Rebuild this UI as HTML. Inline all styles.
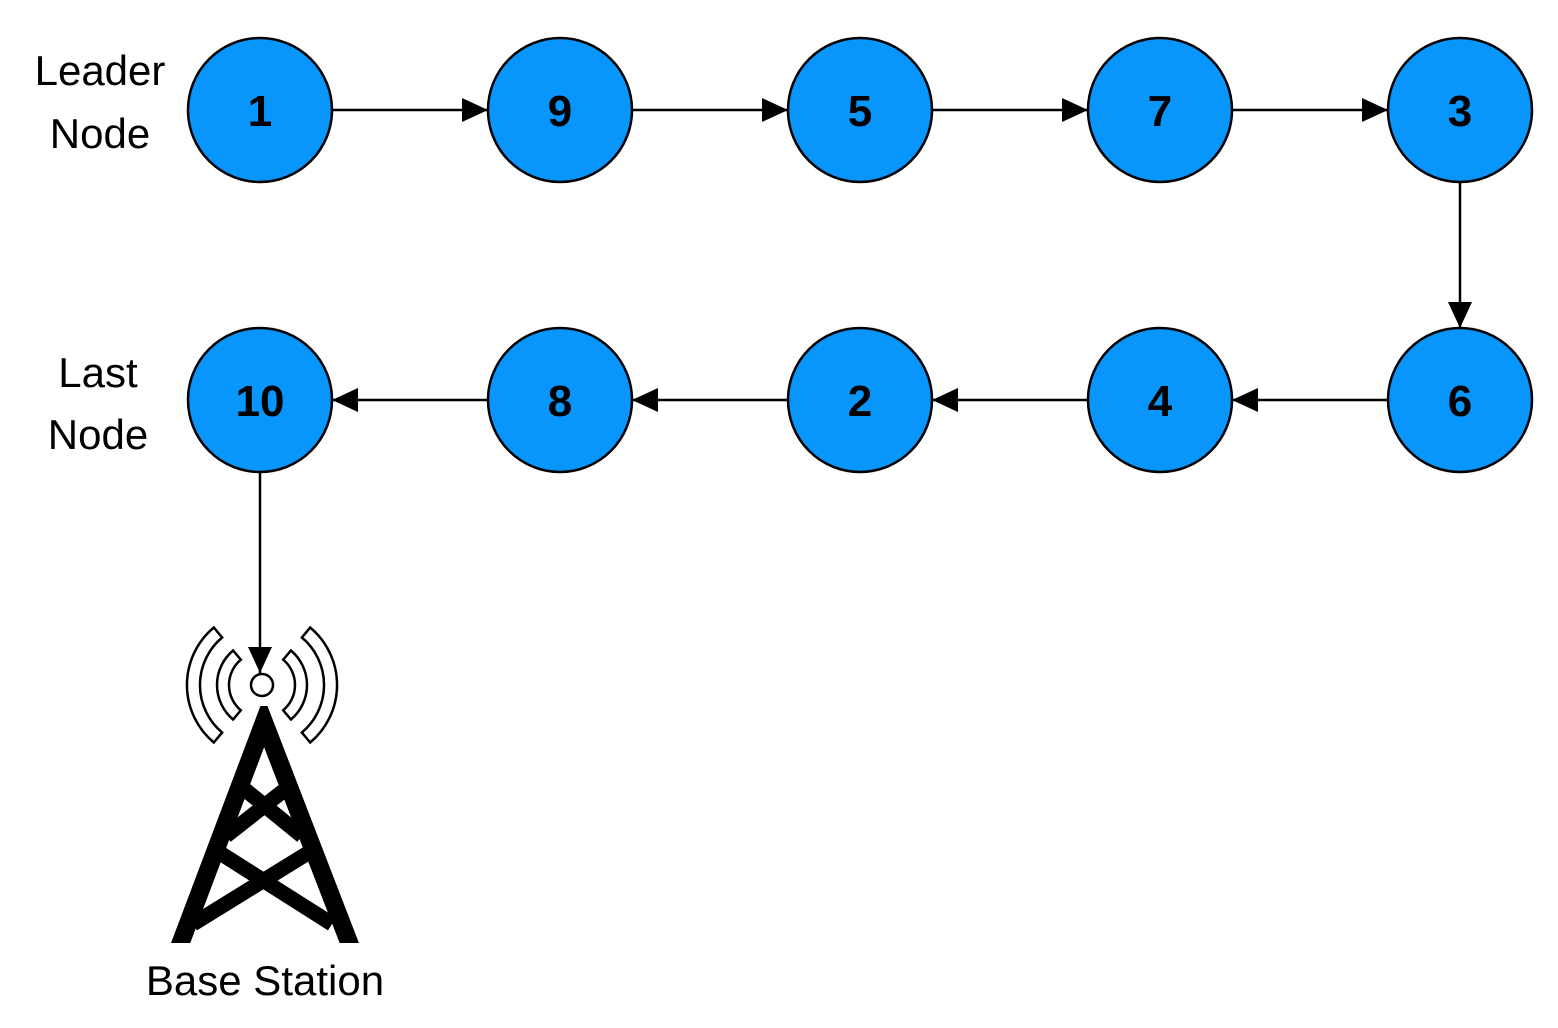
<!DOCTYPE html>
<html><head><style>body{margin:0;background:#fff}svg{display:block}</style></head><body>
<svg width="1558" height="1028" viewBox="0 0 1558 1028" xmlns="http://www.w3.org/2000/svg">
<defs>
<marker id="a" markerWidth="26" markerHeight="24" refX="26" refY="12" orient="auto" markerUnits="userSpaceOnUse">
<path d="M0,0 L26,12 L0,24 Z" fill="#000"/></marker>
<clipPath id="c"><rect x="0" y="706" width="1558" height="237"/></clipPath>
</defs>
<g stroke="#000" stroke-width="2.5" marker-end="url(#a)">
<line x1="332" y1="110" x2="488" y2="110"/>
<line x1="632" y1="110" x2="788" y2="110"/>
<line x1="932" y1="110" x2="1088" y2="110"/>
<line x1="1232" y1="110" x2="1388" y2="110"/>
<line x1="1460" y1="182" x2="1460" y2="328"/>
<line x1="1388" y1="400" x2="1232" y2="400"/>
<line x1="1088" y1="400" x2="932" y2="400"/>
<line x1="788" y1="400" x2="632" y2="400"/>
<line x1="488" y1="400" x2="332" y2="400"/>
<line x1="260" y1="472" x2="260" y2="673"/>
</g>
<g fill="#0896FD" stroke="#000" stroke-width="2.5">
<circle cx="260" cy="110" r="72"/><circle cx="560" cy="110" r="72"/><circle cx="860" cy="110" r="72"/><circle cx="1160" cy="110" r="72"/><circle cx="1460" cy="110" r="72"/>
<circle cx="260" cy="400" r="72"/><circle cx="560" cy="400" r="72"/><circle cx="860" cy="400" r="72"/><circle cx="1160" cy="400" r="72"/><circle cx="1460" cy="400" r="72"/>
</g>
<g font-family="Liberation Sans, sans-serif" font-weight="bold" font-size="44" text-anchor="middle">
<text x="260" y="126">1</text><text x="560" y="126">9</text><text x="860" y="126">5</text><text x="1160" y="126">7</text><text x="1460" y="126">3</text>
<text x="260" y="416">10</text><text x="560" y="416">8</text><text x="860" y="416">2</text><text x="1160" y="416">4</text><text x="1460" y="416">6</text>
</g>
<g font-family="Liberation Sans, sans-serif" font-size="42" text-anchor="middle">
<text x="100" y="85">Leader</text><text x="100" y="148">Node</text>
<text x="98" y="387">Last</text><text x="98" y="449">Node</text>
<text x="265" y="995">Base Station</text>
</g>
<circle cx="262" cy="685" r="11" fill="#fff" stroke="#000" stroke-width="2.5"/>
<g fill="#fff" stroke="#000" stroke-width="2.5">
<path d="M233.1,650.5 A45,45 0 0 0 233.1,719.5 L240.8,710.3 A33,33 0 0 1 240.8,659.7 Z"/>
<path d="M290.9,650.5 A45,45 0 0 1 290.9,719.5 L283.2,710.3 A33,33 0 0 0 283.2,659.7 Z"/>
<path d="M213.8,627.5 A75,75 0 0 0 213.8,742.5 L222.1,732.5 A62,62 0 0 1 222.1,637.5 Z"/>
<path d="M310.2,627.5 A75,75 0 0 1 310.2,742.5 L301.9,732.5 A62,62 0 0 0 301.9,637.5 Z"/>
</g>
<g clip-path="url(#c)" stroke="#000" fill="none">
<path d="M178,950 L264,722 L352,950" stroke-width="18" stroke-linejoin="miter" stroke-miterlimit="10"/>
<g stroke-width="15">
<line x1="243" y1="788" x2="302" y2="836"/>
<line x1="287" y1="788" x2="226" y2="836"/>
<line x1="220" y1="853" x2="332" y2="924"/>
<line x1="308" y1="853" x2="193" y2="924"/>
</g>
</g>
</svg>
</body></html>
